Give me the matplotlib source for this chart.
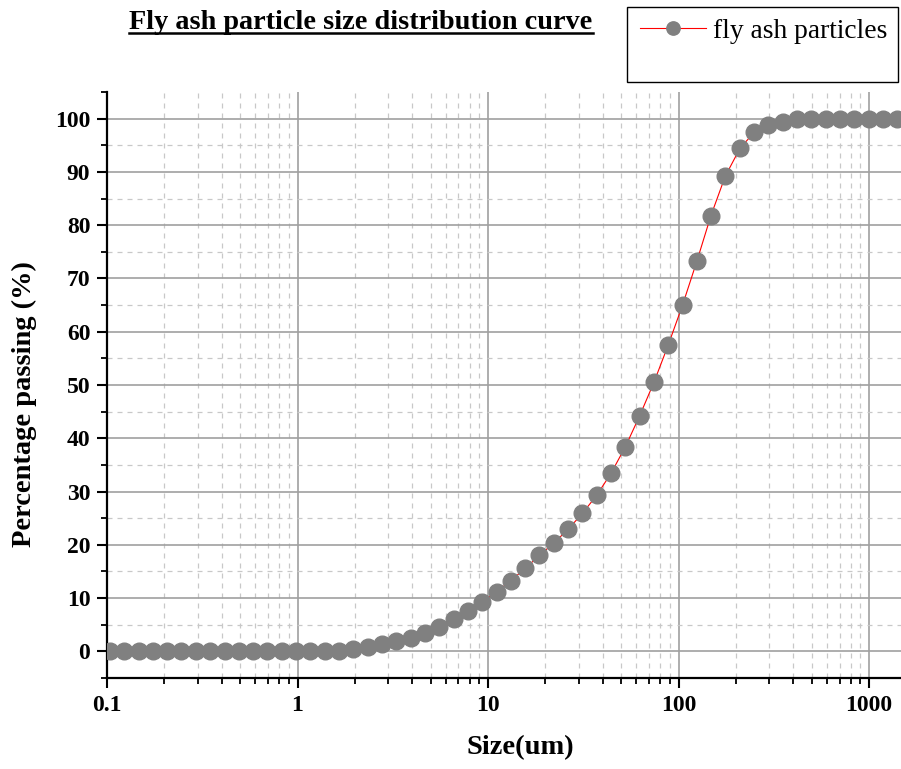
import matplotlib
matplotlib.use("Agg")
import matplotlib.pyplot as plt
from matplotlib.patches import Rectangle
from matplotlib.lines import Line2D
from matplotlib.ticker import FixedLocator, LogLocator, NullFormatter

# particle size (um) and cumulative percentage passing
size_um = [0.104, 0.123, 0.147, 0.174, 0.207, 0.246, 0.293, 0.348, 0.414, 0.492,
           0.585, 0.695, 0.827, 0.983, 1.17, 1.39, 1.65, 1.96, 2.34, 2.78,
           3.30, 3.93, 4.67, 5.55, 6.60, 7.84, 9.33, 11.1, 13.2, 15.7,
           18.6, 22.1, 26.3, 31.3, 37.2, 44.2, 52.6, 62.5, 74.3, 88.3,
           105, 125, 148, 176, 210, 249, 296, 352, 419, 498,
           592, 704, 837, 995, 1183, 1406]
passing = [0, 0, 0, 0, 0, 0, 0, 0, 0, 0,
           0, 0, 0, 0, 0, 0, 0, 0.5, 0.8, 1.4,
           1.9, 2.6, 3.5, 4.6, 6.0, 7.5, 9.3, 11.2, 13.3, 15.6,
           18.0, 20.3, 22.9, 25.9, 29.3, 33.4, 38.4, 44.2, 50.5, 57.5,
           65.0, 73.3, 81.8, 89.2, 94.4, 97.4, 98.8, 99.4, 100, 100,
           100, 100, 100, 100, 100, 100]

x_ticks = [0.1, 1, 10, 100, 1000]
x_ticklabels = ["0.1", "1", "10", "100", "1000"]
y_ticks = [0, 10, 20, 30, 40, 50, 60, 70, 80, 90, 100]
y_minor = [-5, 5, 15, 25, 35, 45, 55, 65, 75, 85, 95, 105]

plt.rcParams['font.family'] = ['Liberation Serif', 'DejaVu Serif']

fig = plt.figure(figsize=(9.01, 7.69), dpi=100)
ax = fig.add_axes([107 / 901, 1 - 678 / 769, 794 / 901, (678 - 92) / 769])

ax.plot(size_um, passing, color='red', linewidth=0.8, marker='o', markersize=12,
        markerfacecolor='#808080', markeredgecolor='#808080', zorder=3,
        label='fly ash particles')

ax.set_xscale('log')
ax.set_xlim(0.1, 1472)
ax.set_ylim(-5, 105)

ax.xaxis.set_major_locator(FixedLocator(x_ticks))
ax.set_xticklabels(x_ticklabels)
ax.xaxis.set_minor_locator(LogLocator(base=10, subs=[2, 3, 4, 5, 6, 7, 8, 9]))
ax.xaxis.set_minor_formatter(NullFormatter())
ax.yaxis.set_major_locator(FixedLocator(y_ticks))
ax.yaxis.set_minor_locator(FixedLocator(y_minor))

# grid: solid major, dashed minor
ax.grid(True, which='major', color='#a0a0a0', linewidth=1.2, linestyle='-')
ax.grid(True, which='minor', color='#c8c8c8', linewidth=0.9, linestyle=(0, (4, 4)))
ax.set_axisbelow(True)

for s in ['top', 'right']:
    ax.spines[s].set_visible(False)
for s in ['left', 'bottom']:
    ax.spines[s].set_linewidth(1.6)

ax.tick_params(which='major', direction='out', length=7, width=1.5, labelsize=17, pad=5)
ax.tick_params(which='minor', direction='out', length=4, width=1.3)
for lab in ax.get_xticklabels() + ax.get_yticklabels():
    lab.set_fontweight('bold')

ax.set_xlabel('Size(um)', fontsize=20.5, fontweight='bold')
ax.set_ylabel('Percentage passing (%)', fontsize=20.5, fontweight='bold')
ax.xaxis.set_label_coords(0.52, -0.098)
ax.yaxis.set_label_coords(-0.088, 0.467)

fig.canvas.draw()
# no dashed line along the top and bottom edges
for t in ax.yaxis.get_minor_ticks():
    if t.get_loc() in (-5, 105):
        t.gridline.set_visible(False)

# title with underline just under the baseline
title = fig.text(361 / 901, 1 - 29 / 769, 'Fly ash particle size distribution curve',
                 fontsize=20.3, fontweight='bold', ha='center', va='baseline')
fig.canvas.draw()
bb = title.get_window_extent().transformed(fig.transFigure.inverted())
uy = 1 - 32.5 / 769
fig.add_artist(Line2D([bb.x0, bb.x1], [uy, uy],
                      transform=fig.transFigure, color='black', linewidth=1.8))

# legend with Origin-style tall frame
fig.add_artist(Rectangle((627 / 901, 1 - 82 / 769), 271 / 901, 75 / 769,
                         transform=fig.transFigure, fill=False,
                         edgecolor='black', linewidth=1.0))
ax.legend(loc='center left', bbox_to_anchor=(640 / 901, 1 - 31 / 769),
          bbox_transform=fig.transFigure, frameon=False, fontsize=19.8,
          handlelength=2.4, handletextpad=0.25, borderpad=0, borderaxespad=0,
          markerscale=0.8)

fig.savefig('out.png', dpi=100)
